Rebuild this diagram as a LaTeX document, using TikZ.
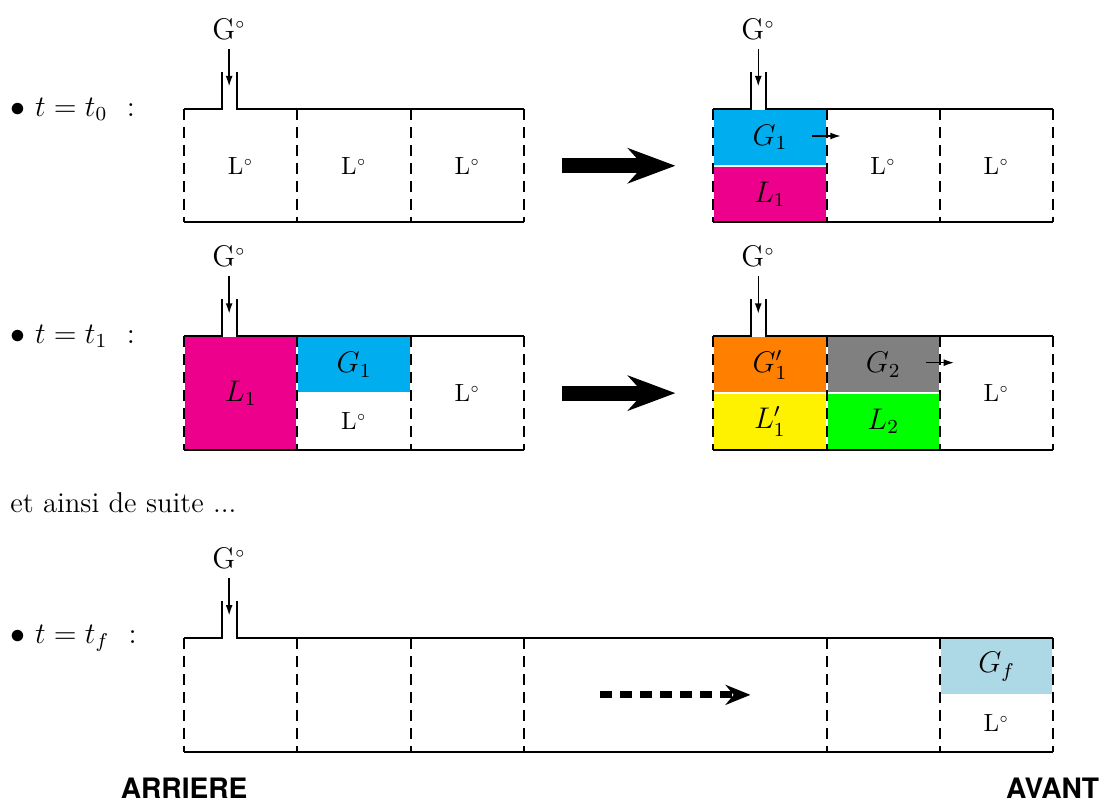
\documentclass[tikz,border=0pt]{standalone}
\usepackage{amsmath,amssymb}
\usepackage{fontspec}
\setsansfont{TeX Gyre Heros}
\usepackage{tikz}
\usetikzlibrary{arrows.meta}
\usepackage{xcolor}
\definecolor{gazbleu}{RGB}{0,174,239}
\definecolor{liqrose}{RGB}{236,0,140}
\definecolor{gazorange}{RGB}{255,128,0}
\definecolor{gazgris}{RGB}{128,128,128}
\definecolor{liqjaune}{RGB}{255,242,0}
\definecolor{liqvert}{RGB}{0,255,0}
\definecolor{gazclair}{RGB}{173,216,230}

\begin{document}
\begin{tikzpicture}[>={Latex[length=4.2pt,width=2.8pt]},font=\normalsize,
  wall/.style={thick},
  cloison/.style={thick,dash pattern=on 4.4pt off 2.8pt},
  remplir/.style={draw=white,line width=0.8pt},
  entree/.style={semithick,->},
  gros/.style={line width=6pt,-{Stealth[length=19pt,width=14pt]}},
  pointille/.style={line width=2.8pt,dash pattern=on 4.7pt off 3.3pt,-{Stealth[length=10pt,width=8pt]}},
  phase/.style={font=\large},
  bord/.style={font=\fontsize{11.3}{13}\sffamily\bfseries,inner sep=0pt}]
\useasboundingbox (0,0) rectangle (15.572,-11.309);

% t = t0
\node[anchor=west,inner sep=0pt,font=\large] (tA) at (0.14,-1.54) {$\bullet\ t=t_0$\ \ :};
\filldraw[remplir,fill=gazbleu] (10.07,-1.54) rectangle (11.67,-2.34);
\filldraw[remplir,fill=liqrose] (10.07,-2.34) rectangle (11.67,-3.14);
\draw[wall] (2.6,-1.54) -- (3.13,-1.54) -- (3.13,-1.01);
\draw[wall] (3.34,-1.01) -- (3.34,-1.54) -- (7.4,-1.54);
\draw[wall] (2.6,-3.14) -- (7.4,-3.14);
\draw[cloison] (2.6,-1.54) -- (2.6,-3.14) (4.193,-1.54) -- (4.193,-3.14)
  (5.8,-1.54) -- (5.8,-3.14) (7.4,-1.54) -- (7.4,-3.14);
\draw[wall] (10.07,-1.54) -- (10.6,-1.54) -- (10.6,-1.01);
\draw[wall] (10.81,-1.01) -- (10.81,-1.54) -- (14.87,-1.54);
\draw[wall] (10.07,-3.14) -- (14.87,-3.14);
\draw[cloison] (10.07,-1.54) -- (10.07,-3.14) (11.67,-1.54) -- (11.67,-3.14)
  (13.27,-1.54) -- (13.27,-3.14) (14.87,-1.54) -- (14.87,-3.14);
\node[above,font=\large] (gA) at (3.235,-0.69) {G$^{\scriptscriptstyle\circ}$};
\coordinate (gAe) at (3.235,-1.22);
\draw[entree] (gA) -- (gAe);
\node[above,font=\large] (gB) at (10.705,-0.69) {G$^{\scriptscriptstyle\circ}$};
\coordinate (gBe) at (10.705,-1.22);
\draw[entree] (gB) -- (gBe);
\node (lA1) at (3.4,-2.34) {L$^{\scriptscriptstyle\circ}$};
\node (lA2) at (5.0,-2.34) {L$^{\scriptscriptstyle\circ}$};
\node (lA3) at (6.6,-2.34) {L$^{\scriptscriptstyle\circ}$};
\node[phase] (gB1) at (10.87,-1.94) {$G_1$};
\node[phase] (lB1) at (10.87,-2.74) {$L_1$};
\node (lB2) at (12.47,-2.34) {L$^{\scriptscriptstyle\circ}$};
\node (lB3) at (14.07,-2.34) {L$^{\scriptscriptstyle\circ}$};
\coordinate (fB1) at (11.47,-1.92);
\coordinate (fB2) at (11.87,-1.92);
\draw[entree] (fB1) -- (fB2);
\coordinate (gros1) at (7.935,-2.34);
\coordinate (gros2) at (9.535,-2.34);
\draw[gros] (gros1) -- (gros2);

% t = t1
\node[anchor=west,inner sep=0pt,font=\large] (tB) at (0.14,-4.75) {$\bullet\ t=t_1$\ \ :};
\filldraw[remplir,fill=liqrose] (2.6,-4.75) rectangle (4.193,-6.35);
\filldraw[remplir,fill=gazbleu] (4.193,-4.75) rectangle (5.8,-5.55);
\filldraw[remplir,fill=gazorange] (10.07,-4.75) rectangle (11.67,-5.55);
\filldraw[remplir,fill=liqjaune] (10.07,-5.55) rectangle (11.67,-6.35);
\filldraw[remplir,fill=gazgris] (11.67,-4.75) rectangle (13.27,-5.55);
\filldraw[remplir,fill=liqvert] (11.67,-5.55) rectangle (13.27,-6.35);
\draw[wall] (2.6,-4.75) -- (3.13,-4.75) -- (3.13,-4.22);
\draw[wall] (3.34,-4.22) -- (3.34,-4.75) -- (7.4,-4.75);
\draw[wall] (2.6,-6.35) -- (7.4,-6.35);
\draw[cloison] (2.6,-4.75) -- (2.6,-6.35) (4.193,-4.75) -- (4.193,-6.35)
  (5.8,-4.75) -- (5.8,-6.35) (7.4,-4.75) -- (7.4,-6.35);
\draw[wall] (10.07,-4.75) -- (10.6,-4.75) -- (10.6,-4.22);
\draw[wall] (10.81,-4.22) -- (10.81,-4.75) -- (14.87,-4.75);
\draw[wall] (10.07,-6.35) -- (14.87,-6.35);
\draw[cloison] (10.07,-4.75) -- (10.07,-6.35) (11.67,-4.75) -- (11.67,-6.35)
  (13.27,-4.75) -- (13.27,-6.35) (14.87,-4.75) -- (14.87,-6.35);
\node[above,font=\large] (gC) at (3.235,-3.9) {G$^{\scriptscriptstyle\circ}$};
\coordinate (gCe) at (3.235,-4.43);
\draw[entree] (gC) -- (gCe);
\node[above,font=\large] (gD) at (10.705,-3.9) {G$^{\scriptscriptstyle\circ}$};
\coordinate (gDe) at (10.705,-4.43);
\draw[entree] (gD) -- (gDe);
\node[phase] (lC1) at (3.4,-5.55) {$L_1$};
\node[phase] (gC2) at (5.0,-5.15) {$G_1$};
\node (lC2) at (5.0,-5.95) {L$^{\scriptscriptstyle\circ}$};
\node (lC3) at (6.6,-5.55) {L$^{\scriptscriptstyle\circ}$};
\node[phase] (gD1) at (10.87,-5.15) {$G_1'$};
\node[phase] (lD1) at (10.87,-5.95) {$L_1'$};
\node[phase] (gD2) at (12.47,-5.15) {$G_2$};
\node[phase] (lD2) at (12.47,-5.95) {$L_2$};
\node (lD3) at (14.07,-5.55) {L$^{\scriptscriptstyle\circ}$};
\coordinate (fD1) at (13.07,-5.12);
\coordinate (fD2) at (13.47,-5.12);
\draw[entree] (fD1) -- (fD2);
\coordinate (gros3) at (7.935,-5.55);
\coordinate (gros4) at (9.535,-5.55);
\draw[gros] (gros3) -- (gros4);

\node[anchor=base west,inner sep=0pt,font=\fontsize{11.5}{14}\selectfont] (suite) at (0.14,-7.24) {et ainsi de suite ...};

% t = tf
\node[anchor=west,inner sep=0pt,font=\large] (tF) at (0.14,-9.01) {$\bullet\ t=t_f$\ \ :};
\filldraw[remplir,fill=gazclair] (13.27,-9.01) rectangle (14.87,-9.81);
\draw[wall] (2.6,-9.01) -- (3.13,-9.01) -- (3.13,-8.48);
\draw[wall] (3.34,-8.48) -- (3.34,-9.01) -- (14.87,-9.01);
\draw[wall] (2.6,-10.61) -- (14.87,-10.61);
\draw[cloison] (2.6,-9.01) -- (2.6,-10.61) (4.193,-9.01) -- (4.193,-10.61)
  (5.8,-9.01) -- (5.8,-10.61) (7.4,-9.01) -- (7.4,-10.61)
  (11.67,-9.01) -- (11.67,-10.61) (13.27,-9.01) -- (13.27,-10.61)
  (14.87,-9.01) -- (14.87,-10.61);
\node[above,font=\large] (gE) at (3.235,-8.16) {G$^{\scriptscriptstyle\circ}$};
\coordinate (gEe) at (3.235,-8.69);
\draw[entree] (gE) -- (gEe);
\node[phase] (gF) at (14.07,-9.41) {$G_f$};
\node (lF) at (14.07,-10.21) {L$^{\scriptscriptstyle\circ}$};
\coordinate (suite1) at (8.475,-9.81);
\coordinate (suite2) at (10.595,-9.81);
\draw[pointille] (suite1) -- (suite2);

\node[bord,anchor=base] (arriere) at (2.6,-11.27) {ARRIERE};
\node[bord,anchor=base] (avant) at (14.86,-11.27) {AVANT};
\end{tikzpicture}
\end{document}
